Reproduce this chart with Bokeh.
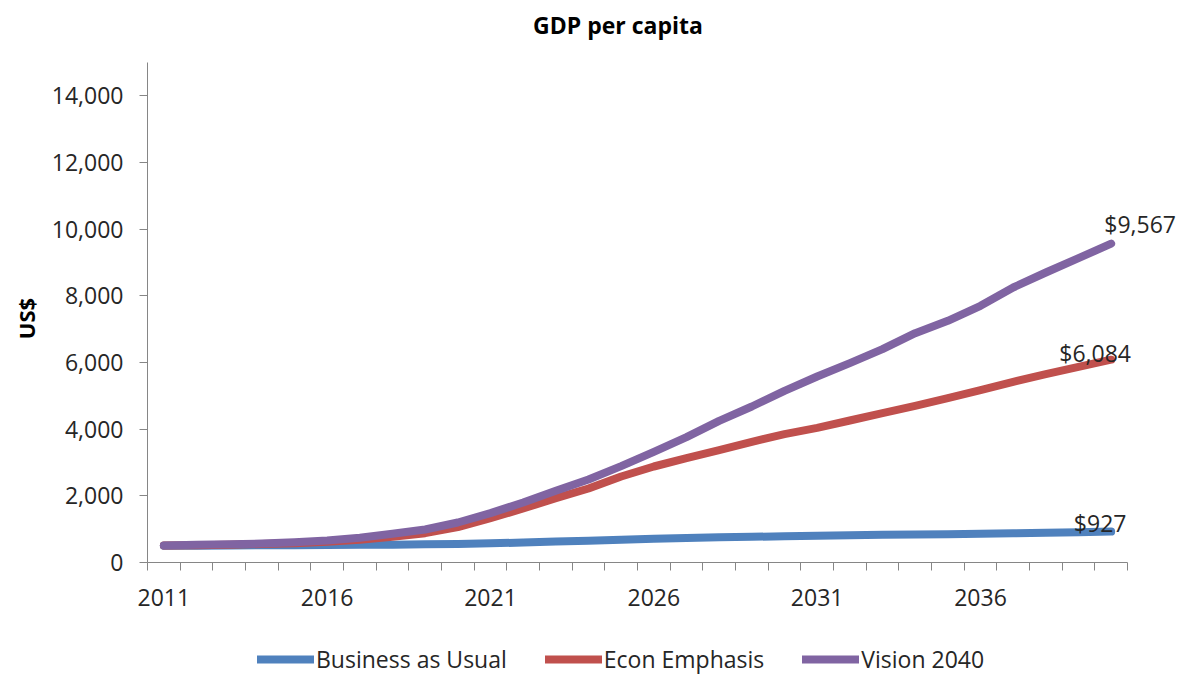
import math
from bokeh.plotting import figure
from bokeh.models import FixedTicker, Range1d, Legend, LegendItem, NumeralTickFormatter, Label
from bokeh.embed import file_html
from bokeh.resources import INLINE

years = list(range(2011, 2041))
business_as_usual = [500, 505, 510, 515, 520, 525, 530, 535, 545, 555,
                     575, 600, 630, 655, 680, 710, 735, 755, 770, 790,
                     805, 815, 830, 840, 850, 860, 875, 890, 905, 927]
econ_emphasis = [510, 520, 535, 555, 580, 620, 680, 770, 880, 1060,
                 1330, 1620, 1930, 2220, 2580, 2880, 3130, 3370, 3620, 3850,
                 4040, 4260, 4480, 4700, 4930, 5170, 5420, 5650, 5870, 6084]
vision_2040 = [510, 530, 545, 570, 610, 660, 740, 860, 990, 1200,
               1480, 1800, 2150, 2490, 2890, 3320, 3760, 4250, 4680, 5150,
               5580, 5980, 6400, 6880, 7250, 7700, 8250, 8700, 9130, 9567]
series_names = ["Business as Usual", "Econ Emphasis", "Vision 2040"]
end_labels = ["$927", "$6,084", "$9,567"]
chart_title = "GDP per capita"
y_title = "US$"
x_tick_labels = [2011, 2016, 2021, 2026, 2031, 2036]
y_ticks = [0, 2000, 4000, 6000, 8000, 10000, 12000, 14000]
y_max = 15000

colors = ["#4F81BD", "#C0504D", "#8064A2"]
FONT = "Open Sans"
TXT = "#262626"
AX = "#868686"

# Layout: the frame covers the whole canvas; axes sit at fixed locations inside it.
W, H = 1184, 677
AX_LEFT, AX_BOTTOM = 147, 562          # pixel position of the axes corner
PX_PER_YEAR = 980 / 30.0
PX_PER_UNIT = 500 / y_max
x0 = years[0] - 0.5
x1 = years[-1] + 0.5
xs = x0 - AX_LEFT / PX_PER_YEAR
ys = -(H - AX_BOTTOM) / PX_PER_UNIT

p = figure(frame_width=W, frame_height=H, output_backend="svg", toolbar_location=None,
           x_range=Range1d(xs, xs + W / PX_PER_YEAR),
           y_range=Range1d(ys, ys + H / PX_PER_UNIT),
           min_border_left=0, min_border_right=0, min_border_top=0, min_border_bottom=0)
p.outline_line_color = None
p.grid.visible = False
p.background_fill_color = "white"
p.border_fill_color = "white"

# x axis
xa = p.xaxis[0]
xa.fixed_location = 0
xa.bounds = (x0, x1)
xa.ticker = FixedTicker(ticks=x_tick_labels, minor_ticks=[y - 0.5 for y in years] + [x1])
xa.major_tick_out = 0
xa.major_tick_in = 0
xa.minor_tick_out = 8
xa.minor_tick_in = 0
xa.minor_tick_line_color = AX
xa.axis_line_color = AX
xa.major_label_standoff = 18
xa.major_label_text_font = FONT
xa.major_label_text_font_size = "23px"
xa.major_label_text_color = TXT

# y axis
ya = p.yaxis[0]
ya.fixed_location = x0
ya.bounds = (0, y_max)
ya.ticker = FixedTicker(ticks=y_ticks)
ya.formatter = NumeralTickFormatter(format="0,0")
ya.major_tick_out = 8
ya.major_tick_in = 0
ya.minor_tick_out = 0
ya.minor_tick_in = 0
ya.major_tick_line_color = AX
ya.axis_line_color = AX
ya.major_label_standoff = 16
ya.major_label_text_font = FONT
ya.major_label_text_font_size = "23px"
ya.major_label_text_color = TXT

renderers = []
for vals, c in zip([business_as_usual, econ_emphasis, vision_2040], colors):
    r = p.line(years, vals, line_color=c, line_width=8, line_cap="round", line_join="round")
    renderers.append(r)

# end-point data labels
offsets = [(-11, 9), (-16, 7), (29, 20)]
for vals, lab, (dx, dy) in zip([business_as_usual, econ_emphasis, vision_2040], end_labels, offsets):
    p.add_layout(Label(x=years[-1], y=vals[-1], text=lab, x_offset=dx, y_offset=dy,
                       text_align="center", text_baseline="alphabetic",
                       text_font=FONT, text_font_size="23px", text_color=TXT))

# chart title
p.add_layout(Label(x=x0, y=y_max, text=chart_title,
                   x_offset=617.5 - AX_LEFT, y_offset=38,
                   text_align="center", text_baseline="middle",
                   text_font=FONT, text_font_size="23px", text_font_style="bold",
                   text_color="#000000"))

# y-axis title
p.add_layout(Label(x=x0, y=0, text=y_title, angle=math.pi / 2,
                   x_offset=25 - AX_LEFT, y_offset=AX_BOTTOM - 318,
                   text_align="center", text_baseline="middle",
                   text_font=FONT, text_font_size="22px", text_font_style="bold",
                   text_color="#000000"))

legend = Legend(items=[LegendItem(label=n, renderers=[r]) for n, r in zip(series_names, renderers)],
                orientation="horizontal", location=(257, 2))
legend.label_text_font = FONT
legend.label_text_font_size = "23px"
legend.label_text_color = TXT
legend.glyph_width = 57
legend.glyph_height = 20
legend.label_standoff = 2
legend.spacing = 38
legend.border_line_color = None
legend.background_fill_alpha = 0
legend.padding = 0
legend.margin = 0
p.add_layout(legend)

open("out.html", "w").write(file_html(p, INLINE))
